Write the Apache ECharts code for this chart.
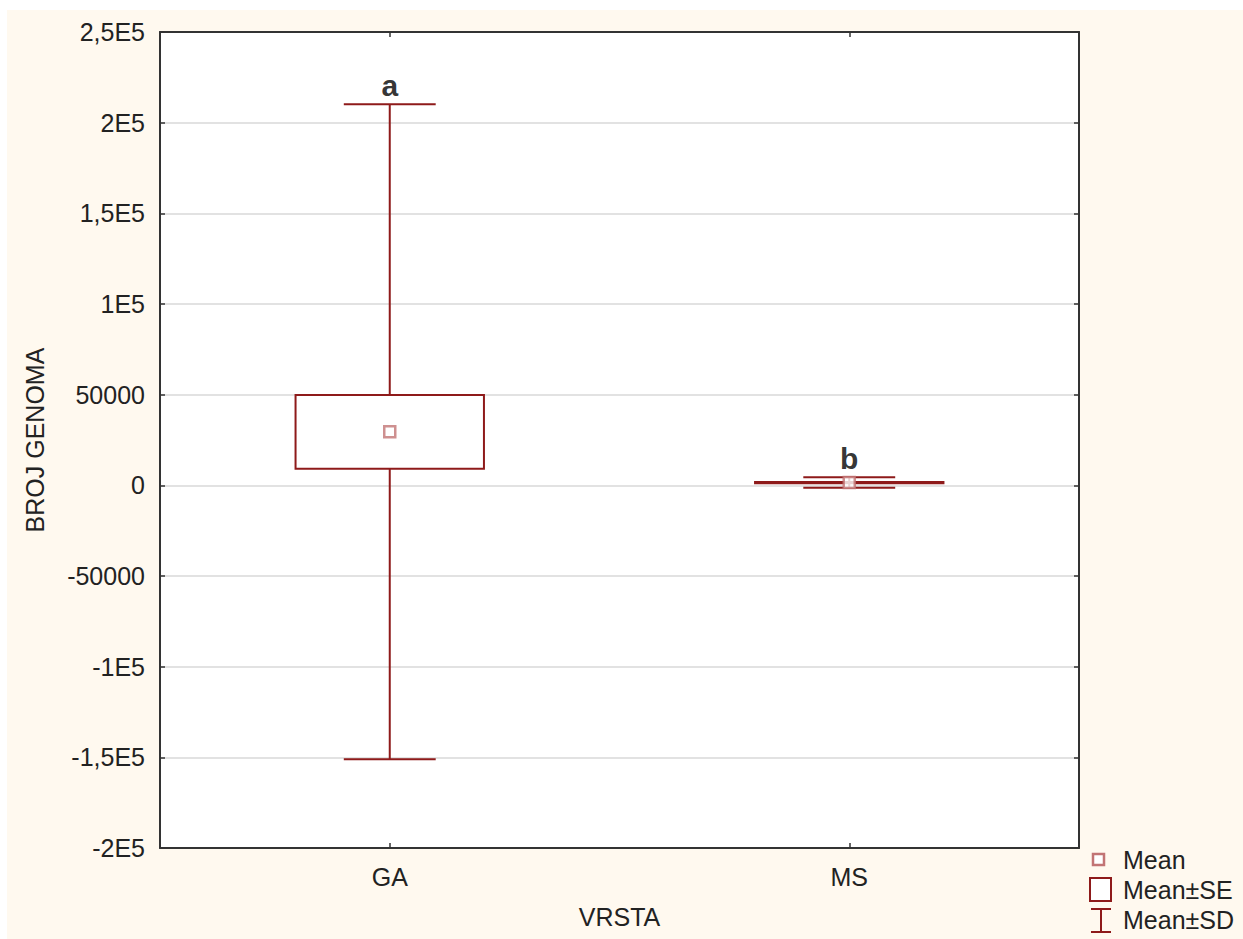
<!DOCTYPE html>
<html>
<head>
<meta charset="utf-8">
<script src="https://cdn.jsdelivr.net/npm/echarts@6/dist/echarts.min.js"></script>
<style>
html,body{margin:0;padding:0;background:#fff;}
#chart{width:1243px;height:939px;}
</style>
</head>
<body>
<div id="chart"></div>
<script>
// ---- data ----
const categories = ['GA', 'MS'];
const meanValues = [29500, 1500];
const seValues = [20300, 350];
const sdValues = [180600, 2900];
const groupLetters = ['a', 'b'];
const yTickValues = [-200000, -150000, -100000, -50000, 0, 50000, 100000, 150000, 200000, 250000];
const yTickLabels = ['-2E5', '-1,5E5', '-1E5', '-50000', '0', '50000', '1E5', '1,5E5', '2E5', '2,5E5'];
const legendLabels = ['Mean', 'Mean\u00B1SE', 'Mean\u00B1SD'];
const xAxisTitle = 'VRSTA';
const yAxisTitle = 'BROJ GENOMA';

// ---- style ----
const FONT = '"Liberation Sans", Arial, sans-serif';
const FS = 25;
const DARK_RED = '#8e1a1a';
const MEAN_RED = '#c27474';
const AXIS = '#333333';

const sdData = categories.map((c, i) => [i, meanValues[i], sdValues[i]]);
const seData = categories.map((c, i) => [i, meanValues[i], seValues[i]]);
const meanData = categories.map((c, i) => [i, meanValues[i]]);
const letterData = categories.map((c, i) => [i, meanValues[i] + sdValues[i]]);

const chart = echarts.init(document.getElementById('chart'), null, { renderer: 'svg' });

function renderSD(params, api) {
  const x = api.value(0), m = api.value(1), s = api.value(2);
  const top = api.coord([x, m + s]);
  const bot = api.coord([x, m - s]);
  const band = api.size([1, 0])[0];
  const cap = band * 0.2;
  const st = { stroke: DARK_RED, lineWidth: 2 };
  return {
    type: 'group',
    children: [
      { type: 'line', shape: { x1: top[0], y1: top[1], x2: bot[0], y2: bot[1] }, style: st },
      { type: 'line', shape: { x1: top[0] - cap / 2, y1: top[1], x2: top[0] + cap / 2, y2: top[1] }, style: st },
      { type: 'line', shape: { x1: bot[0] - cap / 2, y1: bot[1], x2: bot[0] + cap / 2, y2: bot[1] }, style: st }
    ]
  };
}

function renderSE(params, api) {
  const x = api.value(0), m = api.value(1), s = api.value(2);
  const top = api.coord([x, m + s]);
  const bot = api.coord([x, m - s]);
  const band = api.size([1, 0])[0];
  const w = band * 0.41;
  return {
    type: 'rect',
    shape: { x: top[0] - w / 2, y: top[1], width: w, height: Math.max(bot[1] - top[1], 0.5) },
    style: { fill: '#ffffff', stroke: DARK_RED, lineWidth: 2 }
  };
}

const option = {
  backgroundColor: '#ffffff',
  animation: false,
  textStyle: { fontFamily: FONT },
  grid: { left: 160, right: 164, top: 32, bottom: 91, show: true, backgroundColor: '#ffffff', borderWidth: 0 },
  xAxis: [
    {
      type: 'category', data: categories, position: 'bottom', boundaryGap: true,
      axisLine: { show: true, onZero: false, lineStyle: { color: AXIS, width: 2 } },
      axisTick: { show: true, inside: true, alignWithLabel: true, length: 5, lineStyle: { color: AXIS, width: 1.5 } },
      axisLabel: { fontSize: FS, color: '#222', margin: 16, fontFamily: FONT },
      splitLine: { show: false },
      name: xAxisTitle, nameLocation: 'middle', nameGap: 56,
      nameTextStyle: { fontSize: FS, color: '#222', fontFamily: FONT }
    },
    {
      type: 'category', data: categories, position: 'top', boundaryGap: true,
      axisLine: { show: true, onZero: false, lineStyle: { color: AXIS, width: 2 } },
      axisTick: { show: true, inside: true, alignWithLabel: true, length: 5, lineStyle: { color: AXIS, width: 1.5 } },
      axisLabel: { show: false },
      splitLine: { show: false }
    }
  ],
  yAxis: [
    {
      type: 'value', min: -200000, max: 250000, interval: 50000, position: 'left',
      axisLine: { show: true, onZero: false, lineStyle: { color: AXIS, width: 2 } },
      axisTick: { show: true, inside: true, length: 5, lineStyle: { color: AXIS, width: 1.5 } },
      axisLabel: {
        fontSize: FS, color: '#222', margin: 15, fontFamily: FONT,
        formatter: v => { const k = yTickValues.indexOf(v); return k >= 0 ? yTickLabels[k] : String(v); }
      },
      splitLine: { show: true, lineStyle: { color: '#d9d9d9', width: 1.5 } },
      name: yAxisTitle, nameLocation: 'middle', nameGap: 113,
      nameTextStyle: { fontSize: FS, color: '#222', fontFamily: FONT }
    },
    {
      type: 'value', min: -200000, max: 250000, interval: 50000, position: 'right',
      axisLine: { show: true, onZero: false, lineStyle: { color: AXIS, width: 2 } },
      axisTick: { show: true, inside: true, length: 5, lineStyle: { color: AXIS, width: 1.5 } },
      axisLabel: { show: false },
      splitLine: { show: false }
    }
  ],
  series: [
    {
      name: legendLabels[2], type: 'custom', xAxisIndex: 0, yAxisIndex: 0,
      renderItem: renderSD, data: sdData, encode: { x: 0, y: 1 }, z: 3
    },
    {
      name: legendLabels[1], type: 'custom', xAxisIndex: 0, yAxisIndex: 0,
      renderItem: renderSE, data: seData, encode: { x: 0, y: 1 }, z: 4
    },
    {
      name: legendLabels[0], type: 'scatter', xAxisIndex: 0, yAxisIndex: 0,
      data: meanData, symbol: 'rect', symbolSize: 11, z: 5,
      itemStyle: { color: '#ffffff', borderColor: MEAN_RED, borderWidth: 2.5 }
    },
    {
      name: 'letters', type: 'scatter', xAxisIndex: 0, yAxisIndex: 0,
      data: letterData, symbolSize: 0, z: 6,
      label: {
        show: true, position: 'top', distance: 4,
        formatter: p => groupLetters[p.dataIndex],
        fontSize: 30, fontWeight: 'bold', color: '#000', fontFamily: FONT
      }
    }
  ],
  graphic: [
    { type: 'rect', z: -100, silent: true, shape: { x: 7, y: 10, width: 1236, height: 929 }, style: { fill: '#fff9ef' } },
    // legend: Mean
    { type: 'rect', z: 10, shape: { x: 1093, y: 854, width: 11, height: 11 }, style: { fill: '#ffffff', stroke: MEAN_RED, lineWidth: 2.5 } },
    { type: 'text', z: 10, x: 1123, y: 860, style: { text: legendLabels[0], font: FS + 'px ' + FONT, fill: '#222', verticalAlign: 'middle' } },
    // legend: Mean±SE
    { type: 'rect', z: 10, shape: { x: 1090, y: 878, width: 21, height: 23 }, style: { fill: '#ffffff', stroke: DARK_RED, lineWidth: 2 } },
    { type: 'text', z: 10, x: 1123, y: 890, style: { text: legendLabels[1], font: FS + 'px ' + FONT, fill: '#222', verticalAlign: 'middle' } },
    // legend: Mean±SD
    { type: 'line', z: 10, shape: { x1: 1091, y1: 909, x2: 1111, y2: 909 }, style: { stroke: DARK_RED, lineWidth: 2 } },
    { type: 'line', z: 10, shape: { x1: 1101, y1: 909, x2: 1101, y2: 932 }, style: { stroke: DARK_RED, lineWidth: 2 } },
    { type: 'line', z: 10, shape: { x1: 1091, y1: 932, x2: 1111, y2: 932 }, style: { stroke: DARK_RED, lineWidth: 2 } },
    { type: 'text', z: 10, x: 1123, y: 920, style: { text: legendLabels[2], font: FS + 'px ' + FONT, fill: '#222', verticalAlign: 'middle' } }
  ]
};

chart.setOption(option);
</script>
</body>
</html>
